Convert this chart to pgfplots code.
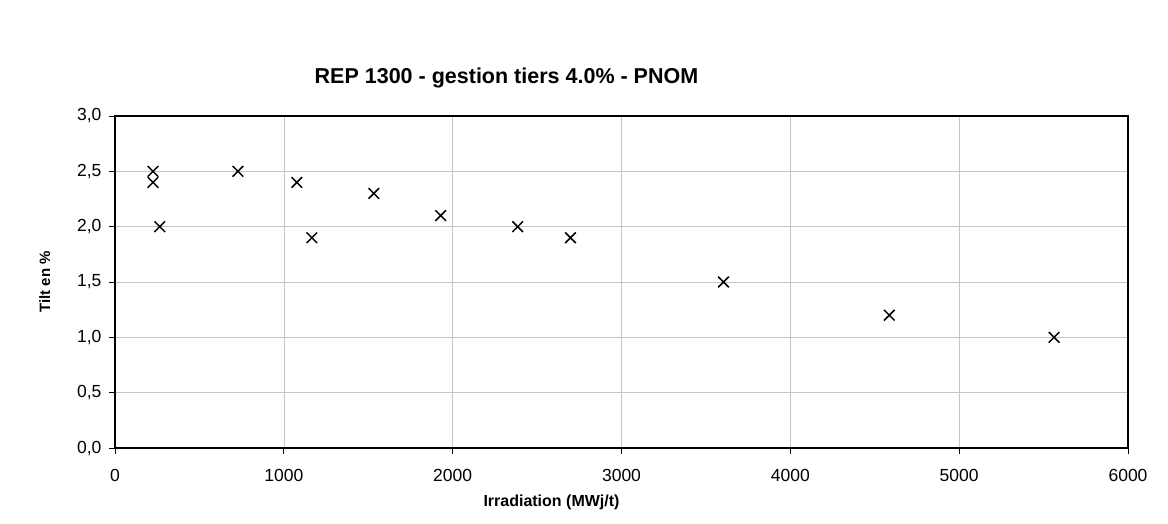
\documentclass[border=0pt]{standalone}
\usepackage{pgfplots}
\pgfplotsset{compat=1.18}
\usepackage{fontspec}
\setmainfont{Liberation Sans}

\begin{document}
\begin{tikzpicture}
\begin{axis}[
  name=ax,
  scale only axis,
  width=1013pt, height=332pt,
  xmin=0, xmax=6000,
  ymin=0, ymax=3,
  xtick={0,1000,...,6000},
  ytick={0,0.5,...,3},
  tick pos=left,
  grid=major,
  major grid style={gray!45, line width=0.6pt},
  axis line style={line width=1.3pt},
  tick align=outside,
  major tick length=6pt,
  tick style={black, line width=0.8pt},
  x tick label style={/pgf/number format/1000 sep={}, font=\fontsize{17.5}{20}\selectfont, yshift=-12pt},
  y tick label style={/pgf/number format/.cd, fixed, fixed zerofill, precision=1, use comma, /tikz/.cd, font=\fontsize{17.5}{20}\selectfont, xshift=-4pt},
  /pgf/number format/assume math mode=true,
  title={\bfseries REP 1300 - gestion tiers 4.0\% - PNOM},
  title style={font=\fontsize{21.5}{24}\selectfont, yshift=18pt, xshift=-115pt},
  xlabel={\bfseries Irradiation (MWj/t)},
  xlabel style={font=\fontsize{16}{18}\selectfont, yshift=-6pt, xshift=-70pt},
  ylabel={\bfseries Tilt en \%},
  ylabel style={font=\fontsize{15}{17}\selectfont, yshift=20pt, xshift=0pt},
]
\addplot[only marks, mark=x, mark size=7.5pt, line width=1.5pt, black] coordinates {
  (225, 2.5)
  (225, 2.4)
  (265, 2.0)
  (728, 2.5)
  (1077, 2.4)
  (1166, 1.9)
  (1533, 2.3)
  (1929, 2.1)
  (2385, 2.0)
  (2698, 1.9)
  (3604, 1.5)
  (4586, 1.2)
  (5562, 1.0)
};
\end{axis}
\path (ax.south west) ++(-115pt,-75pt);
\path (ax.north east) ++(40pt,116pt);
\end{tikzpicture}
\end{document}
